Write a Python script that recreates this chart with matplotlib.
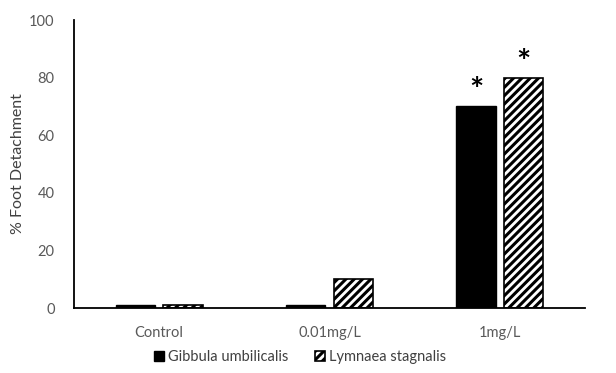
import numpy as np
import matplotlib.pyplot as plt

plt.rcParams['font.family'] = ['Lato', 'DejaVu Sans']
plt.rcParams['hatch.linewidth'] = 2.2

categories = ["Control", "0.01mg/L", "1mg/L"]
gibbula = [1, 1, 70]
lymnaea = [1, 10, 80]
gibbula_sig = ["", "", "*"]
lymnaea_sig = ["", "", "*"]

fig = plt.figure(figsize=(6.16, 3.73), dpi=100)
ax = fig.add_axes([74 / 616, 1 - 308 / 373, 511 / 616, 288 / 373])

x = np.arange(len(categories))
w = 0.23
off = 0.14
b1 = ax.bar(x - off, gibbula, w, color="black", edgecolor="black", label="Gibbula umbilicalis")
b2 = ax.bar(x + off, lymnaea, w, color="white", edgecolor="black", hatch="////",
            linewidth=1.2, label="Lymnaea stagnalis")

for xi, v, s in zip(x - off, gibbula, gibbula_sig):
    if s:
        ax.text(xi, v, s, ha="center", va="bottom", fontsize=24, fontweight="bold")
for xi, v, s in zip(x + off, lymnaea, lymnaea_sig):
    if s:
        ax.text(xi, v, s, ha="center", va="bottom", fontsize=24, fontweight="bold")

ax.set_xlim(-0.5, 2.5)
ax.set_ylim(0, 100)
ax.set_yticks([0, 20, 40, 60, 80, 100])
ax.set_xticks(x)
ax.set_xticklabels(categories)
ax.tick_params(axis="y", length=0, labelsize=10.5, labelcolor="#595959", pad=14)
ax.tick_params(axis="x", length=0, labelsize=10.5, labelcolor="#595959", pad=13)
ax.set_ylabel("% Foot Detachment", fontsize=11.5, color="#404040")
ax.yaxis.set_label_coords(-0.095, 0.5)
for s in ["top", "right"]:
    ax.spines[s].set_visible(False)
ax.spines["left"].set_linewidth(1.3)
ax.spines["bottom"].set_linewidth(1.3)

fig.legend(handles=[b1, b2], loc="center", bbox_to_anchor=(300 / 616, 1 - 357 / 373), ncol=2,
           frameon=False, fontsize=10.5, handlelength=0.7, handleheight=0.7,
           handletextpad=0.3, columnspacing=1.8, labelcolor="#404040")

fig.savefig("out.png", dpi=100)
